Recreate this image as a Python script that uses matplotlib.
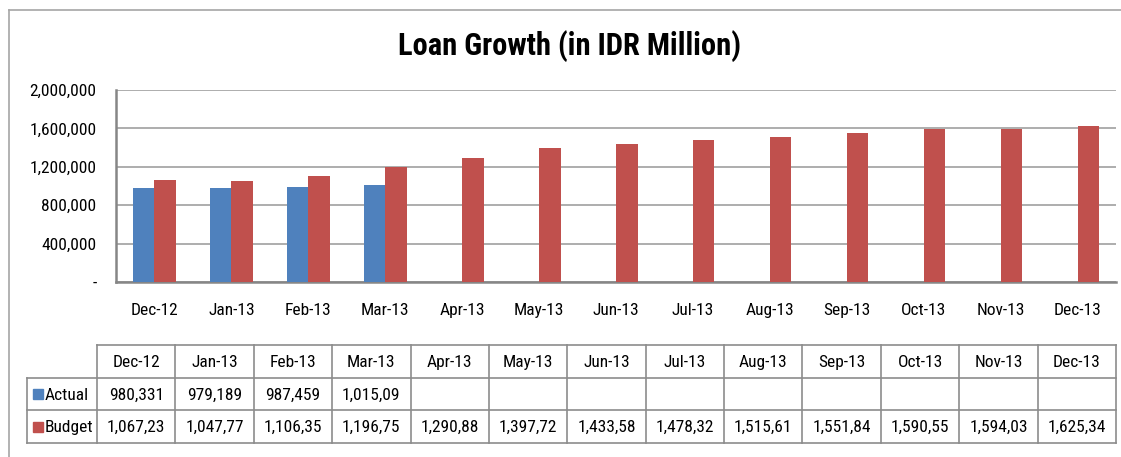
import numpy as np
import matplotlib
matplotlib.use("Agg")
import matplotlib.pyplot as plt
from matplotlib.patches import Rectangle
from matplotlib.lines import Line2D

months = ["Dec-12", "Jan-13", "Feb-13", "Mar-13", "Apr-13", "May-13", "Jun-13",
          "Jul-13", "Aug-13", "Sep-13", "Oct-13", "Nov-13", "Dec-13"]
actual = [980331, 979189, 987459, 1015090]
budget = [1067230, 1047770, 1106350, 1196750, 1290880, 1397720, 1433580,
          1478320, 1515610, 1551840, 1590550, 1594030, 1625340]
yticks = [0, 400000, 800000, 1200000, 1600000, 2000000]
ytick_labels = ["-", "400,000", "800,000", "1,200,000", "1,600,000", "2,000,000"]
title = "Loan Growth (in IDR Million)"
series_names = ["Actual", "Budget"]

BLUE = "#4F81BD"
RED = "#C0504D"
FONT = ["Roboto Condensed", "DejaVu Sans"]
plt.rcParams["font.family"] = FONT

W, H = 1121, 457
fig = plt.figure(figsize=(W / 100, H / 100), dpi=100)

# overlay in pixel coordinates
ov = fig.add_axes([0, 0, 1, 1])
ov.set_xlim(0, W)
ov.set_ylim(H, 0)
ov.axis("off")

# outer chart frame
ov.add_line(Line2D([9, 9], [10, H], color="#A6A6A6", lw=1.2))
ov.add_line(Line2D([9, W], [10, 10], color="#A6A6A6", lw=1.2))

ov.text(570, 46, title, ha="center", va="center", fontsize=22, fontweight="bold")

# main plot
L, R, T, B = 116, 1116, 90, 282
ax = fig.add_axes([L / W, 1 - B / H, (R - L) / W, (B - T) / H])
x = np.arange(len(months))
bw = 0.28
ax.bar(x[:len(actual)] - bw / 2, actual, width=bw, color=BLUE, zorder=3)
ax.bar(x + bw / 2, budget, width=bw, color=RED, zorder=3)
ax.set_xlim(-0.5, len(months) - 0.5)
ax.set_ylim(0, 2000000)
ax.set_yticks(yticks)
ax.set_yticklabels(ytick_labels, fontsize=12.5)
ax.set_xticks(x)
ax.set_xticklabels(months, fontsize=12.5)
ax.tick_params(axis="both", length=0)
ax.tick_params(axis="x", pad=15)
ax.tick_params(axis="y", pad=14)
ax.grid(axis="y", color="#A0A0A0", lw=1.2, zorder=0)
for s in ["top", "right"]:
    ax.spines[s].set_visible(False)
for s in ["left", "bottom"]:
    ax.spines[s].set_color("#868686")
    ax.spines[s].set_linewidth(1.8)

# data table
tl, tr = 97, 1116
lab_l = 27
rows_y = [345, 378, 410, 443]
n = len(months)
cw = (tr - tl) / n
edges = [tl + i * cw for i in range(n + 1)]
lc = "#8C8C8C"
lw = 1.2
ov.add_line(Line2D([tl, tr], [rows_y[0], rows_y[0]], color=lc, lw=lw))
for yy in rows_y[1:]:
    ov.add_line(Line2D([lab_l, tr], [yy, yy], color=lc, lw=lw))
for e in edges:
    ov.add_line(Line2D([e, e], [rows_y[0], rows_y[3]], color=lc, lw=lw))
ov.add_line(Line2D([lab_l, lab_l], [rows_y[1], rows_y[3]], color=lc, lw=lw))

fs = 12.5
for i, m in enumerate(months):
    cx = (edges[i] + edges[i + 1]) / 2
    ov.text(cx, (rows_y[0] + rows_y[1]) / 2 + 1, m, ha="center", va="center", fontsize=fs)
for i, v in enumerate(actual):
    cx = (edges[i] + edges[i + 1]) / 2
    ov.text(cx, (rows_y[1] + rows_y[2]) / 2 + 1, f"{v:,}"[:8], ha="center", va="center", fontsize=fs)
for i, v in enumerate(budget):
    cx = (edges[i] + edges[i + 1]) / 2
    ov.text(cx, (rows_y[2] + rows_y[3]) / 2 + 1, f"{v:,}"[:8], ha="center", va="center", fontsize=fs)

for j, (name, col) in enumerate(zip(series_names, [BLUE, RED])):
    cy = (rows_y[1 + j] + rows_y[2 + j]) / 2
    ov.add_patch(Rectangle((33, cy - 5), 10, 10, color=col))
    ov.text(45, cy + 1, name, ha="left", va="center", fontsize=fs)

fig.savefig("out.png", dpi=100)
